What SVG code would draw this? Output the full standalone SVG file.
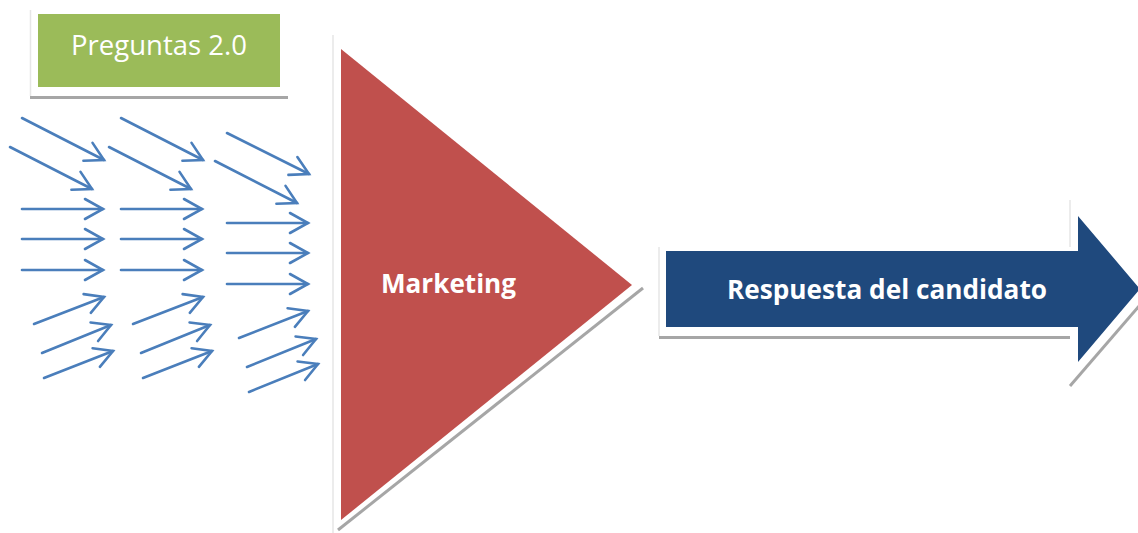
<svg xmlns="http://www.w3.org/2000/svg" width="1138" height="533" viewBox="0 0 1138 533">
  <defs>
    <marker id="open" markerUnits="userSpaceOnUse" markerWidth="24" markerHeight="24" viewBox="-20 -12 24 24" refX="0" refY="0" orient="auto">
      <path d="M-18,-10 L0,0 L-18,10" fill="none" stroke="#4A7EBB" stroke-width="2.6" stroke-linecap="round" stroke-linejoin="miter"/>
    </marker>
  </defs>
  <style>
    .arr { stroke: #4A7EBB; stroke-width: 2.6; fill: none; stroke-linecap: round; marker-end: url(#open); }
    .shadow { stroke: #A6A6A6; stroke-width: 3; fill: none; }
    .edge { stroke: #E6E6E6; stroke-width: 1.5; fill: none; }
    .lbl { fill: #FFFFFF; font-family: "Open Sans", "Liberation Sans", Arial, sans-serif; }
  </style>
  <rect width="1138" height="533" fill="#FFFFFF"/>

  <g id="preguntas">
    <line class="edge" x1="30.5" y1="10" x2="30.5" y2="96"/>
    <line class="shadow" x1="30" y1="97.5" x2="288" y2="97.5"/>
    <rect x="38" y="14" width="242" height="73" fill="#9BBB59"/>
    <text class="lbl" x="71" y="55" font-size="28" textLength="176" lengthAdjust="spacingAndGlyphs">Preguntas 2.0</text>
  </g>

  <g id="marketing">
    <line class="edge" x1="333" y1="35" x2="333" y2="533"/>
    <line class="shadow" x1="643" y1="288" x2="338" y2="530"/>
    <polygon points="341,49 632,285 341,520" fill="#C0504D"/>
    <text class="lbl" x="381" y="293" font-size="27" font-weight="bold" textLength="135" lengthAdjust="spacingAndGlyphs">Marketing</text>
  </g>

  <g id="respuesta">
    <line class="edge" x1="659" y1="247" x2="659" y2="336"/>
    <line class="edge" x1="1070" y1="200" x2="1070" y2="247"/>
    <line class="shadow" x1="659" y1="337.5" x2="1070" y2="337.5"/>
    <line class="shadow" x1="1070" y1="386" x2="1140" y2="305"/>
    <polygon points="666,251 1078,251 1078,216 1140,289 1078,362 1078,327 666,327" fill="#1F497D"/>
    <text class="lbl" x="727" y="299" font-size="26" font-weight="bold" textLength="320" lengthAdjust="spacingAndGlyphs">Respuesta del candidato</text>
  </g>

  <g id="connectors">
    <line class="arr" x1="22" y1="118" x2="104" y2="160"/>
    <line class="arr" x1="10" y1="147" x2="92" y2="189"/>
    <line class="arr" x1="121" y1="118" x2="203" y2="160"/>
    <line class="arr" x1="109" y1="147" x2="191" y2="189"/>
    <line class="arr" x1="227" y1="133" x2="309" y2="174"/>
    <line class="arr" x1="215" y1="161" x2="297" y2="203"/>

    <line class="arr" x1="22" y1="209" x2="103" y2="209"/>
    <line class="arr" x1="22" y1="239" x2="103" y2="239"/>
    <line class="arr" x1="22" y1="270" x2="103" y2="270"/>
    <line class="arr" x1="121" y1="209" x2="202" y2="209"/>
    <line class="arr" x1="121" y1="239" x2="202" y2="239"/>
    <line class="arr" x1="121" y1="270" x2="202" y2="270"/>
    <line class="arr" x1="227" y1="223" x2="308" y2="223"/>
    <line class="arr" x1="227" y1="253" x2="308" y2="253"/>
    <line class="arr" x1="227" y1="284" x2="308" y2="284"/>

    <line class="arr" x1="34" y1="324" x2="104" y2="297"/>
    <line class="arr" x1="42" y1="353" x2="111" y2="325"/>
    <line class="arr" x1="44" y1="378" x2="113" y2="351"/>
    <line class="arr" x1="133" y1="324" x2="203" y2="297"/>
    <line class="arr" x1="141" y1="353" x2="210" y2="325"/>
    <line class="arr" x1="143" y1="378" x2="212" y2="351"/>
    <line class="arr" x1="239" y1="338" x2="308" y2="311"/>
    <line class="arr" x1="247" y1="367" x2="316" y2="339"/>
    <line class="arr" x1="249" y1="392" x2="318" y2="364"/>
  </g>
</svg>
